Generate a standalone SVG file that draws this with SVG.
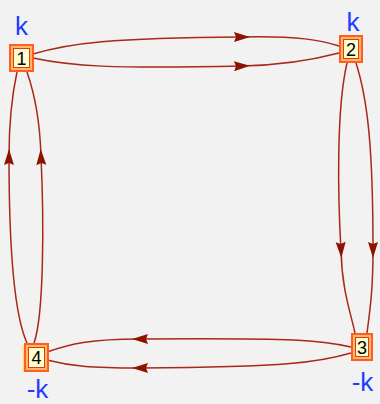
<svg xmlns="http://www.w3.org/2000/svg" width="380" height="404" viewBox="0 0 380 404">
<style>
.edge{fill:none;stroke:#a8281a;stroke-width:1.5;marker-mid:url(#arr)}
.outer{fill:#ffb868;stroke:#ff5e22;stroke-width:2}
.inner{fill:#ffffd2;stroke:#e43812;stroke-width:1}
.num{font-family:"Liberation Sans",Arial,sans-serif;font-size:18px;fill:#000;text-anchor:middle}
.lab{font-family:"Liberation Sans",Arial,sans-serif;font-size:26px;fill:#1e3cff;text-anchor:middle}
</style>
<defs>
<marker id="arr" markerUnits="userSpaceOnUse" viewBox="-10 -10 20 20" markerWidth="20" markerHeight="20" refX="0" refY="0" orient="auto" overflow="visible">
<path d="M8,0 L-8,-5 L-6,0 L-8,5 Z" fill="#8e1200"/>
</marker>
</defs>
<rect width="380" height="404" fill="#f2f2f2"/>
<g id="connectors">
<path class="edge" d="M33,54 C70,43 110,38 242,37 C300,36 320,40 339,46"/>
<path class="edge" d="M33,58 C70,66 110,69 242,66 C290,65 320,58 339,53"/>
<path class="edge" d="M347,63 C336,110 338,200 341,250 C342,290 350,310 355,333"/>
<path class="edge" d="M356,63 C368,100 373,150 373,250 C373,290 370,310 367,333"/>
<path class="edge" d="M351,347 C320,340 300,338 140,339 C90,339 70,344 47,352"/>
<path class="edge" d="M351,353 C320,362 290,367 140,368 C90,368 70,366 47,360"/>
<path class="edge" d="M27,343 C12,310 9,220 9,157 C9,120 12,95 17,72"/>
<path class="edge" d="M34,343 C44,315 44,220 41,157 C40,120 35,95 27,72"/>
</g>
<g id="node1">
<rect class="outer" x="10" y="45" width="23" height="26"/>
<rect class="inner" x="13.5" y="48.5" width="16" height="19"/>
<text class="num" x="21.5" y="64.5">1</text>
<text class="lab" x="21.5" y="34.5">k</text>
</g>
<g id="node2">
<rect class="outer" x="340" y="36" width="22" height="26"/>
<rect class="inner" x="343.5" y="39.5" width="15" height="19"/>
<text class="num" x="351" y="55.5">2</text>
<text class="lab" x="353" y="31">k</text>
</g>
<g id="node3">
<rect class="outer" x="352" y="334" width="20" height="26"/>
<rect class="inner" x="355.5" y="337.5" width="13" height="19"/>
<text class="num" x="362" y="353.5">3</text>
<text class="lab" x="362.5" y="391">-k</text>
</g>
<g id="node4">
<rect x="22.5" y="345" width="3.5" height="27" fill="#ffe08a"/>
<rect class="outer" x="25" y="344" width="23" height="27"/>
<rect class="inner" x="28.5" y="347.5" width="16" height="20"/>
<text class="num" x="36.5" y="364">4</text>
<text class="lab" x="37.5" y="398">-k</text>
</g>
</svg>
